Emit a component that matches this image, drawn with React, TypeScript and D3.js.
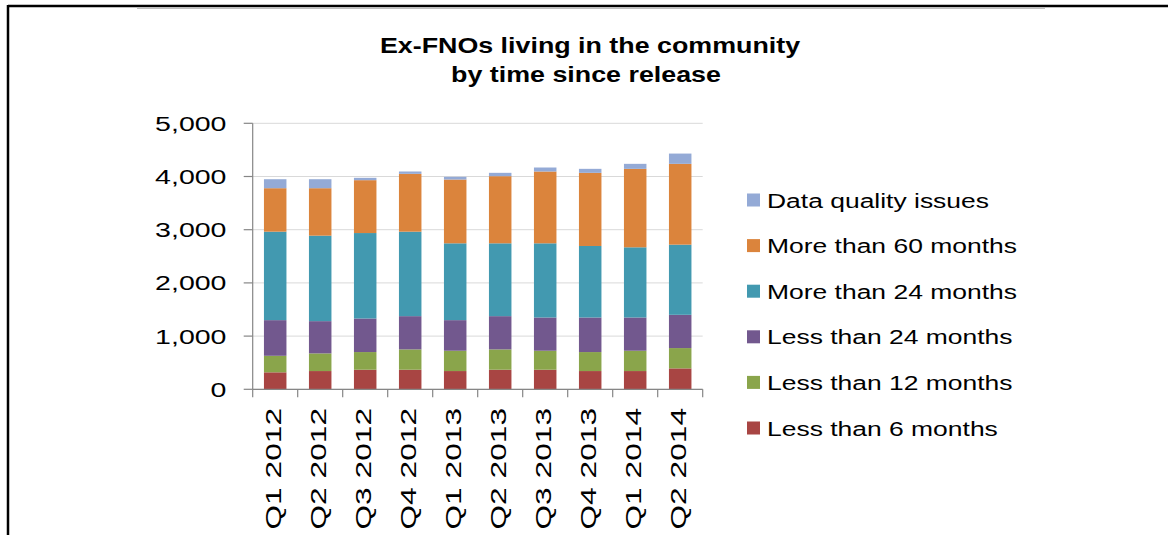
import React from "react";
import * as d3 from "d3";

const categories = ["Q1 2012", "Q2 2012", "Q3 2012", "Q4 2012", "Q1 2013", "Q2 2013", "Q3 2013", "Q4 2013", "Q1 2014", "Q2 2014"];
const lessThan6 = [319, 343, 368, 368, 343, 368, 368, 343, 343, 393];
const lessThan12 = [311, 332, 332, 382, 382, 382, 357, 357, 382, 382];
const lessThan24 = [670, 606, 631, 625, 575, 625, 625, 650, 625, 625];
const moreThan24 = [1663, 1607, 1606, 1588, 1444, 1369, 1394, 1344, 1319, 1319];
const moreThan60 = [817, 892, 994, 1087, 1199, 1262, 1350, 1375, 1475, 1519];
const dataQuality = [169, 169, 44, 44, 51, 63, 75, 75, 94, 193];
const yTicks = [0, 1000, 2000, 3000, 4000, 5000];

const seriesNames = ["Less than 6 months", "Less than 12 months", "Less than 24 months", "More than 24 months", "More than 60 months", "Data quality issues"];
const seriesValues = [lessThan6, lessThan12, lessThan24, moreThan24, moreThan60, dataQuality];
const seriesColors = ["#A84543", "#8AA54B", "#72588E", "#4299B0", "#DB843C", "#94AAD6"];

const FONT = "'Liberation Sans', Arial, sans-serif";

export default function App() {
  const W = 1168, H = 535;
  const x0 = 252.7, x1 = 702.7;
  const y = d3.scaleLinear().domain([0, 5000]).range([389.3, 123.3]);
  const x = d3.scaleBand<string>().domain(categories).range([x0, x1]).paddingInner(0.5).paddingOuter(0.25);

  const rows = categories.map((c, i) => {
    const r: any = { cat: c };
    seriesNames.forEach((s, k) => (r[s] = seriesValues[k][i]));
    return r;
  });
  const stacked = d3.stack<any>().keys(seriesNames)(rows);

  const legendOrder = [...seriesNames].reverse();

  return (
    <svg width={W} height={H} style={{ position: "absolute", left: 0, top: 0, background: "#fff" }}>
      <rect x={0} y={0} width={W} height={H} fill="#fff" />
      {/* frame */}
      <line x1={8} y1={6} x2={W} y2={6} stroke="#000" strokeWidth={2.5} />
      <line x1={8} y1={5} x2={8} y2={H} stroke="#000" strokeWidth={2.5} />
      <line x1={137} y1={8.5} x2={1045} y2={8.5} stroke="#BFBFBF" strokeWidth={1.2} />

      {/* title */}
      <text transform="translate(590,53) scale(1.22,1)" textAnchor="middle" fontFamily={FONT} fontWeight="bold" fontSize={22} fill="#000">Ex-FNOs living in the community</text>
      <text transform="translate(586,82) scale(1.22,1)" textAnchor="middle" fontFamily={FONT} fontWeight="bold" fontSize={22} fill="#000">by time since release</text>

      {/* gridlines */}
      {yTicks.map((t) => (
        <line key={"g" + t} x1={x0} x2={x1} y1={y(t)} y2={y(t)} stroke="#D9D9D9" strokeWidth={1} />
      ))}

      {/* bars */}
      {stacked.map((layer, k) => (
        <g key={layer.key} fill={seriesColors[k]}>
          {layer.map((d, i) => (
            <rect key={i} x={x(categories[i])} width={x.bandwidth()} y={y(d[1])} height={y(d[0]) - y(d[1])} />
          ))}
        </g>
      ))}

      {/* y axis */}
      <line x1={x0} x2={x0} y1={y(5000)} y2={y(0)} stroke="#868686" strokeWidth={1.2} />
      {yTicks.map((t) => (
        <g key={"t" + t}>
          <line x1={x0 - 9} x2={x0} y1={y(t)} y2={y(t)} stroke="#868686" strokeWidth={1.2} />
          <text transform={`translate(226.5,${y(t) + 7.5}) scale(1.36,1)`} textAnchor="end" fontFamily={FONT} fontSize={21} fill="#000">{d3.format(",")(t)}</text>
        </g>
      ))}

      {/* x axis */}
      <line x1={x0} x2={x1} y1={y(0)} y2={y(0)} stroke="#868686" strokeWidth={1.2} />
      {d3.range(categories.length + 1).map((i) => {
        const xx = x0 + i * x.step();
        return <line key={"xt" + i} x1={xx} x2={xx} y1={y(0)} y2={y(0) + 8} stroke="#868686" strokeWidth={1.2} />;
      })}
      {categories.map((c) => {
        const cx = (x(c) as number) + x.bandwidth() / 2 + 6;
        return (
          <text key={"xl" + c} transform={`translate(${cx},${408}) rotate(-90) scale(1.44,1)`} textAnchor="end" fontFamily={FONT} fontSize={22} fill="#000">{c}</text>
        );
      })}

      {/* legend */}
      {legendOrder.map((name, j) => {
        const k = seriesNames.indexOf(name);
        const cy = 200 + j * 45.6;
        return (
          <g key={"l" + name}>
            <rect x={747} y={cy - 6.5} width={13} height={13} fill={seriesColors[k]} />
            <text transform={`translate(767,${cy + 7.5}) scale(1.26,1)`} fontFamily={FONT} fontSize={21} fill="#000">{name}</text>
          </g>
        );
      })}
    </svg>
  );
}
